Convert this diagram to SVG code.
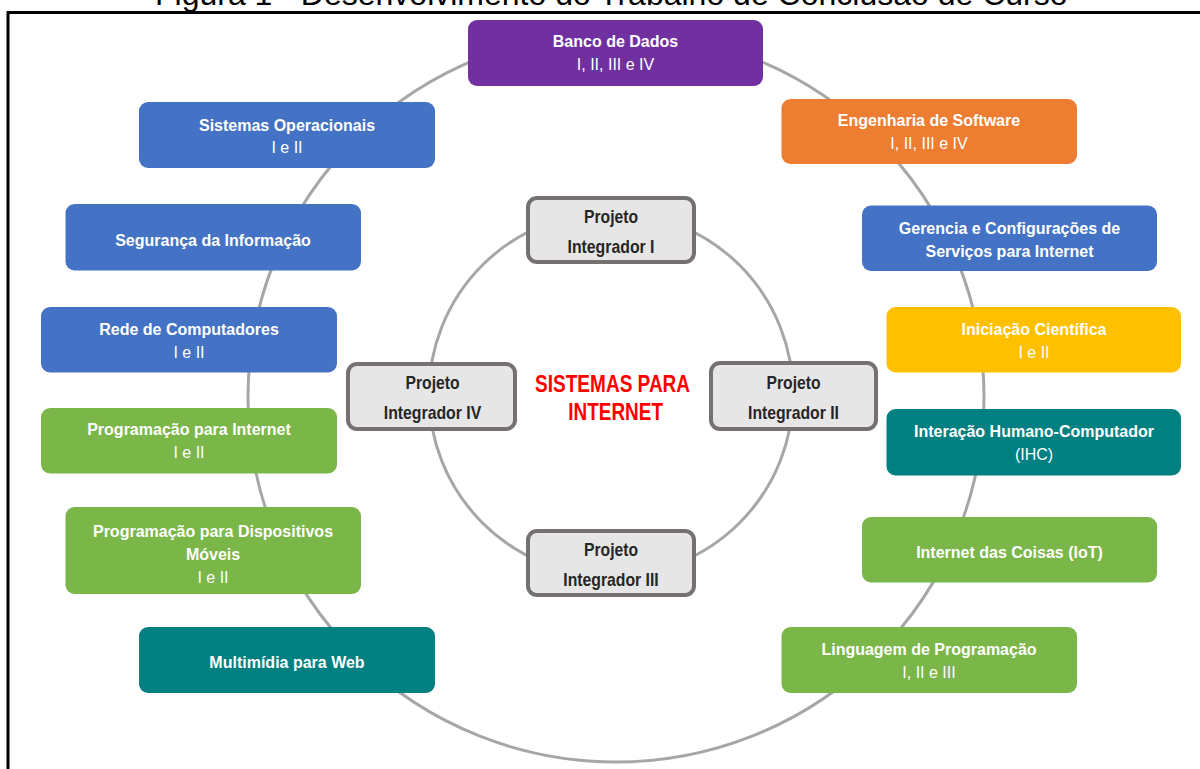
<svg xmlns="http://www.w3.org/2000/svg" width="1200" height="769" viewBox="0 0 1200 769">
<style>
.title{font-family:"Liberation Sans",Arial,sans-serif;font-size:32px;fill:#000}
.box{stroke:none}
.h{font-family:"Liberation Sans",Arial,sans-serif;font-size:16px;font-weight:bold;fill:#fff;text-anchor:middle}
.s{font-family:"Liberation Sans",Arial,sans-serif;font-size:16px;fill:#fff;text-anchor:middle}
.pi{fill:#E7E6E6;stroke:#767171;stroke-width:4}
.pit{font-family:"Liberation Sans Narrow","Liberation Sans",Arial,sans-serif;font-size:19px;font-weight:bold;fill:#262626;text-anchor:middle}
.ct{font-family:"Liberation Sans Narrow","Liberation Sans",Arial,sans-serif;font-size:23px;font-weight:bold;fill:#FF0000;text-anchor:middle}
.ring{fill:none;stroke:#A6A6A6;stroke-width:3}
.blue{fill:#4472C4}.green{fill:#7AB648}.teal{fill:#008080}.purple{fill:#7030A0}.orange{fill:#ED7D31}.gold{fill:#FFC000}
</style>
<text class="title" x="155" y="5">Figura 1 - Desenvolvimento do Trabalho de Conclusão de Curso</text>
<rect x="8" y="12.5" width="1205" height="780" fill="none" stroke="#000" stroke-width="3"/>
<g id="connectors">
<ellipse class="ring" cx="616" cy="397" rx="368" ry="365"/>
<circle class="ring" cx="611" cy="394" r="182"/>
</g>
<g id="banco"><rect class="box purple" x="468" y="20" width="295" height="66" rx="9"/><text class="h" x="615.5" y="47">Banco de Dados</text><text class="s" x="615.5" y="70">I, II, III e IV</text></g>
<g id="sistemas"><rect class="box blue" x="139" y="102" width="296" height="66" rx="9"/><text class="h" x="287" y="130.5">Sistemas Operacionais</text><text class="s" x="287" y="153">I e II</text></g>
<g id="seguranca"><rect class="box blue" x="65.5" y="204" width="295.5" height="66.5" rx="9"/><text class="h" x="213" y="245.5">Segurança da Informação</text></g>
<g id="rede"><rect class="box blue" x="41" y="307" width="296" height="65.5" rx="9"/><text class="h" x="189" y="335">Rede de Computadores</text><text class="s" x="189" y="358">I e II</text></g>
<g id="proginternet"><rect class="box green" x="41" y="408" width="296" height="65.5" rx="9"/><text class="h" x="189" y="435">Programação para Internet</text><text class="s" x="189" y="458">I e II</text></g>
<g id="progmoveis"><rect class="box green" x="65.5" y="507" width="295.5" height="87" rx="9"/><text class="h" x="213" y="537">Programação para Dispositivos</text><text class="h" x="213" y="560">Móveis</text><text class="s" x="213" y="583">I e II</text></g>
<g id="multimidia"><rect class="box teal" x="139" y="627" width="296" height="66" rx="9"/><text class="h" x="287" y="668">Multimídia para Web</text></g>
<g id="engenharia"><rect class="box orange" x="781.5" y="99" width="295.5" height="65" rx="9"/><text class="h" x="929" y="126">Engenharia de Software</text><text class="s" x="929" y="149">I, II, III e IV</text></g>
<g id="gerencia"><rect class="box blue" x="862" y="205.5" width="295" height="65.5" rx="9"/><text class="h" x="1009.5" y="234">Gerencia e Configurações de</text><text class="h" x="1009.5" y="257">Serviços para Internet</text></g>
<g id="iniciacao"><rect class="box gold" x="886.5" y="307" width="294.5" height="65.5" rx="9"/><text class="h" x="1034" y="335">Iniciação Científica</text><text class="s" x="1034" y="358">I e II</text></g>
<g id="ihc"><rect class="box teal" x="886.5" y="409" width="294.5" height="66.5" rx="9"/><text class="h" x="1034" y="437">Interação Humano-Computador</text><text class="s" x="1034" y="460">(IHC)</text></g>
<g id="iot"><rect class="box green" x="862" y="517" width="295" height="65.5" rx="9"/><text class="h" x="1009.5" y="558">Internet das Coisas (IoT)</text></g>
<g id="linguagem"><rect class="box green" x="781.5" y="627" width="295.5" height="66" rx="9"/><text class="h" x="929" y="655">Linguagem de Programação</text><text class="s" x="929" y="678">I, II e III</text></g>
<g id="pi1"><rect class="pi" x="528" y="198" width="166" height="64" rx="9"/><text class="pit" x="611" y="222.7" textLength="54" lengthAdjust="spacingAndGlyphs">Projeto</text><text class="pit" x="611" y="252.7" textLength="87" lengthAdjust="spacingAndGlyphs">Integrador I</text></g>
<g id="pi2"><rect class="pi" x="711" y="363" width="165" height="66" rx="9"/><text class="pit" x="793.5" y="389.3" textLength="54" lengthAdjust="spacingAndGlyphs">Projeto</text><text class="pit" x="793.5" y="419.3" textLength="91" lengthAdjust="spacingAndGlyphs">Integrador II</text></g>
<g id="pi3"><rect class="pi" x="528" y="531" width="166" height="64" rx="9"/><text class="pit" x="611" y="555.7" textLength="54" lengthAdjust="spacingAndGlyphs">Projeto</text><text class="pit" x="611" y="585.7" textLength="95.4" lengthAdjust="spacingAndGlyphs">Integrador III</text></g>
<g id="pi4"><rect class="pi" x="348" y="364" width="167" height="65" rx="9"/><text class="pit" x="432.5" y="389.3" textLength="54" lengthAdjust="spacingAndGlyphs">Projeto</text><text class="pit" x="432.5" y="419.3" textLength="97.5" lengthAdjust="spacingAndGlyphs">Integrador IV</text></g>
<g id="center"><text class="ct" x="612.6" y="391.7" textLength="155" lengthAdjust="spacingAndGlyphs">SISTEMAS PARA</text><text class="ct" x="615.6" y="420" textLength="94.7" lengthAdjust="spacingAndGlyphs">INTERNET</text></g>
</svg>
